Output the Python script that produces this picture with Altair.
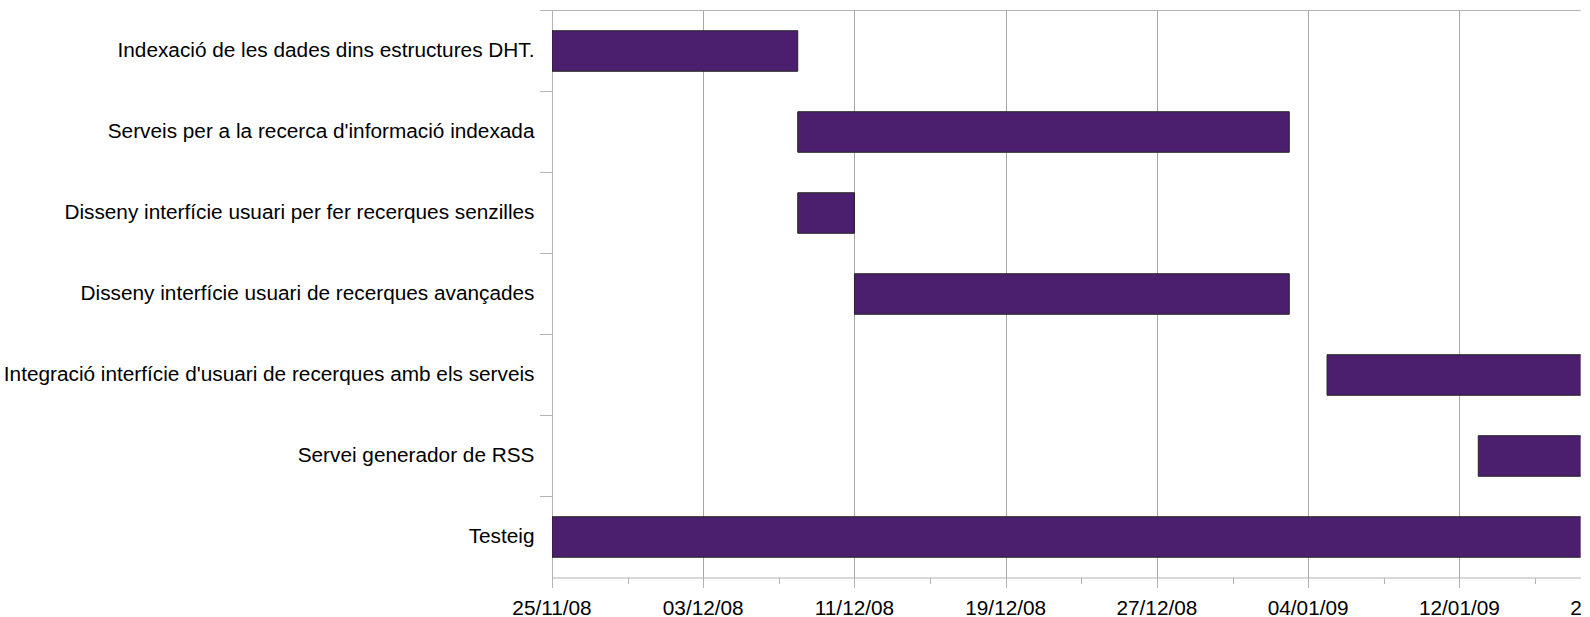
import altair as alt
import pandas as pd

tasks = [
    "Indexació de les dades dins estructures DHT.",
    "Serveis per a la recerca d'informació indexada",
    "Disseny interfície usuari per fer recerques senzilles",
    "Disseny interfície usuari de recerques avançades",
    "Integració interfície d'usuari de recerques amb els serveis",
    "Servei generador de RSS",
    "Testeig",
]
starts = ["2008-11-25", "2008-12-08", "2008-12-08", "2008-12-11", "2009-01-05", "2009-01-13", "2008-11-25"]
ends = ["2008-12-08", "2009-01-03", "2008-12-11", "2009-01-03", "2009-01-20", "2009-01-20", "2009-01-20"]

label_dates = ["2008-11-25", "2008-12-03", "2008-12-11", "2008-12-19", "2008-12-27",
               "2009-01-04", "2009-01-12", "2009-01-20"]
label_texts = ["25/11/08", "03/12/08", "11/12/08", "19/12/08", "27/12/08",
               "04/01/09", "12/01/09", "20/01/09"]

# axis tick positions (every 2 days inside the visible range)
tick_values = [int(t.value // 10**6) for t in pd.date_range("2008-11-25", "2009-01-18", freq="2D", tz="UTC")]

W = 1028.7
H = 567
FONT = "Liberation Sans"
FS = 20.8
GREY = "#b3b3b3"

bars_df = pd.DataFrame({"task": tasks, "start": starts, "end": ends})
labels_df = pd.DataFrame({"date": label_dates, "label": label_texts})
one_df = pd.DataFrame({"k": [0]})

x_scale = alt.Scale(
    type="utc",
    domain=[alt.DateTime(year=2008, month=11, date=25, utc=True),
            alt.DateTime(year=2009, month=1, date=18, hours=10, utc=True)],
)
y_scale = alt.Scale(paddingInner=0, paddingOuter=0)

major_test = "round((datum.value - utc(2008,10,25)) / 864e5) % 8 == 0"

x_axis = alt.Axis(
    values=tick_values,
    labels=False,
    title=None,
    grid=True,
    gridColor="#a6a6a6",
    gridOpacity={"condition": {"test": major_test, "value": 1}, "value": 0},
    tickSize={"condition": {"test": major_test, "value": 10}, "value": 6},
    tickColor=GREY,
    domainColor=GREY,
)
y_axis = alt.Axis(
    title=None,
    ticks=False,
    labelPadding=18,
    labelFont=FONT,
    labelFontSize=FS,
    labelColor="#000000",
    labelLimit=2000,
    domainColor=GREY,
    grid=False,
)

bars = alt.Chart(bars_df).mark_bar(
    height={"band": 0.5}, color="#4b1f6e", stroke="#222222", strokeWidth=1, clip=True
).encode(
    x=alt.X("start:T", scale=x_scale, axis=x_axis),
    x2="end:T",
    y=alt.Y("task:N", sort=tasks, scale=y_scale, axis=y_axis),
)

yticks = alt.Chart(bars_df).mark_rule(color=GREY, strokeWidth=1).encode(
    y=alt.Y("task:N", sort=tasks, bandPosition=0),
    x=alt.value(-12),
    x2=alt.value(0),
)

top_line = alt.Chart(one_df).mark_rule(color=GREY, strokeWidth=1).encode(
    x=alt.value(0), x2=alt.value(W), y=alt.value(0)
)

xlabels = alt.Chart(labels_df).mark_text(
    font=FONT, fontSize=FS, color="#000000", align="center", baseline="alphabetic"
).encode(
    x=alt.X("date:T"),
    y=alt.value(H + 37.5),
    text="label:N",
)

chart = alt.layer(bars, yticks, top_line, xlabels).properties(
    width=W,
    height=H,
    autosize=alt.AutoSizeParams(type="none"),
    padding={"left": 552, "top": 10.5, "right": 0, "bottom": 39.5},
    background="white",
).configure_view(stroke=None)

chart.save("out.html", embed_options={"renderer": "svg", "actions": False})
